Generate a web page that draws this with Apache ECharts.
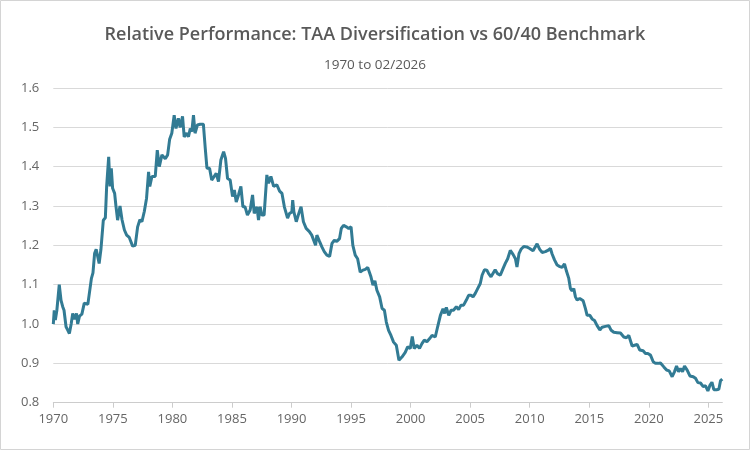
<!DOCTYPE html>
<html>
<head>
<meta charset="utf-8">
<script src="https://cdn.jsdelivr.net/npm/echarts@6/dist/echarts.min.js"></script>
<style>html,body{margin:0;padding:0;background:#fff}#c{width:750px;height:450px}</style>
</head>
<body>
<div id="c"></div>
<script>
const titleText = 'Relative Performance: TAA Diversification vs 60/40 Benchmark';
const subtitleText = '1970 to 02/2026';
const xTicks = [1970,1975,1980,1985,1990,1995,2000,2005,2010,2015,2020,2025];
const yTicks = [0.8,0.9,1.0,1.1,1.2,1.3,1.4,1.5,1.6];
const years = [
1970.00,1970.08,1970.17,1970.30,1970.50,1970.65,1970.79,1970.90,1971.07,1971.20,1971.35,1971.50,1971.63,1971.80,1971.95,
1972.05,1972.20,1972.40,1972.60,1972.75,1972.90,1973.05,1973.20,1973.33,1973.47,1973.60,1973.85,1974.00,1974.20,1974.37,
1974.48,1974.65,1974.76,1974.87,1974.98,1975.15,1975.26,1975.40,1975.60,1975.77,1975.97,1976.16,1976.38,1976.66,1976.88,
1977.08,1977.27,1977.44,1977.64,1977.83,1978.00,1978.10,1978.28,1978.56,1978.73,1978.90,1979.12,1979.40,1979.60,1979.77,
1979.95,1980.15,1980.30,1980.50,1980.65,1980.85,1980.99,1981.20,1981.35,1981.50,1981.63,1981.77,1981.90,1982.10,1982.33,
1982.60,1982.75,1982.90,1983.12,1983.30,1983.45,1983.68,1983.87,1984.07,1984.30,1984.46,1984.63,1984.85,1985.05,1985.20,
1985.36,1985.55,1985.75,1985.92,1986.10,1986.30,1986.53,1986.73,1986.87,1987.10,1987.23,1987.37,1987.50,1987.70,1987.93,
1988.07,1988.27,1988.50,1988.77,1989.00,1989.20,1989.40,1989.67,1989.83,1990.03,1990.10,1990.20,1990.40,1990.60,1990.80,
1990.90,1991.00,1991.23,1991.50,1991.70,1991.85,1992.02,1992.13,1992.35,1992.55,1992.75,1992.97,1993.20,1993.40,1993.60,
1993.80,1994.03,1994.18,1994.37,1994.60,1994.80,1995.00,1995.15,1995.35,1995.55,1995.77,1996.00,1996.20,1996.40,1996.56,
1996.67,1996.84,1997.00,1997.17,1997.40,1997.60,1997.80,1997.96,1998.15,1998.35,1998.57,1998.80,1999.02,1999.27,1999.55,
1999.75,1999.97,2000.14,2000.30,2000.53,2000.75,2000.95,2001.15,2001.37,2001.60,2001.80,2002.07,2002.27,2002.50,2002.72,
2002.86,2003.00,2003.20,2003.40,2003.60,2003.84,2004.03,2004.23,2004.45,2004.68,2004.87,2005.07,2005.24,2005.43,2005.63,
2005.85,2006.00,2006.20,2006.40,2006.55,2006.75,2006.90,2007.10,2007.30,2007.53,2007.76,2007.95,2008.15,2008.37,2008.60,
2008.80,2008.93,2009.10,2009.27,2009.50,2009.75,2010.00,2010.28,2010.62,2010.84,2011.04,2011.32,2011.52,2011.74,2011.88,
2012.08,2012.30,2012.53,2012.72,2012.92,2013.09,2013.28,2013.42,2013.56,2013.70,2013.84,2013.98,2014.20,2014.49,2014.68,
2014.82,2015.05,2015.24,2015.44,2015.66,2015.89,2016.08,2016.36,2016.64,2016.84,2017.06,2017.34,2017.62,2017.90,2018.12,
2018.32,2018.60,2018.80,2019.02,2019.24,2019.52,2019.72,2019.92,2020.14,2020.37,2020.56,2020.76,2020.98,2021.26,2021.49,
2021.71,2021.96,2022.16,2022.33,2022.50,2022.66,2022.83,2023.00,2023.22,2023.45,2023.73,2023.92,2024.12,2024.34,2024.57,
2024.76,2024.96,2025.13,2025.30,2025.46,2025.69,2025.88,2026.02,2026.17
];
const values = [
1.000,1.035,1.010,1.035,1.100,1.060,1.044,1.035,0.993,0.985,0.976,1.000,1.027,1.012,1.027,
1.000,1.020,1.025,1.053,1.050,1.050,1.045,1.116,1.130,1.180,1.190,1.154,1.190,1.264,1.270,
1.350,1.425,1.350,1.396,1.345,1.332,1.300,1.264,1.300,1.265,1.239,1.226,1.220,1.198,1.200,
1.247,1.265,1.260,1.286,1.320,1.387,1.350,1.375,1.375,1.442,1.400,1.430,1.420,1.430,1.470,
1.485,1.531,1.497,1.523,1.500,1.528,1.476,1.485,1.476,1.497,1.489,1.531,1.485,1.506,1.508,
1.508,1.450,1.396,1.396,1.366,1.370,1.383,1.362,1.417,1.438,1.421,1.370,1.366,1.324,1.341,
1.310,1.328,1.350,1.298,1.298,1.277,1.290,1.328,1.281,1.298,1.264,1.298,1.277,1.277,1.379,
1.358,1.375,1.350,1.354,1.338,1.332,1.298,1.269,1.281,1.285,1.315,1.285,1.260,1.280,1.298,
1.302,1.260,1.243,1.235,1.226,1.230,1.200,1.226,1.210,1.196,1.184,1.175,1.172,1.205,1.213,
1.210,1.217,1.243,1.251,1.247,1.243,1.247,1.200,1.175,1.166,1.132,1.137,1.139,1.144,1.146,
1.120,1.099,1.110,1.086,1.069,1.040,1.035,1.005,0.984,0.971,0.954,0.946,0.908,0.916,0.928,
0.942,0.938,0.968,0.938,0.946,0.938,0.950,0.959,0.955,0.963,0.971,0.967,0.993,1.022,1.039,
1.027,1.042,1.022,1.035,1.035,1.044,1.037,1.048,1.048,1.061,1.073,1.073,1.069,1.078,1.090,
1.103,1.124,1.138,1.137,1.128,1.120,1.124,1.138,1.128,1.124,1.141,1.154,1.166,1.187,1.177,
1.166,1.145,1.179,1.190,1.197,1.196,1.192,1.186,1.204,1.190,1.182,1.184,1.187,1.192,1.178,
1.163,1.150,1.146,1.144,1.153,1.134,1.116,1.090,1.084,1.090,1.069,1.061,1.065,1.059,1.039,
1.022,1.022,1.013,1.009,0.996,0.985,0.992,0.994,0.996,0.984,0.979,0.978,0.977,0.967,0.965,
0.971,0.944,0.946,0.948,0.934,0.932,0.925,0.925,0.921,0.904,0.900,0.900,0.901,0.891,0.883,
0.881,0.866,0.879,0.893,0.879,0.887,0.879,0.893,0.883,0.868,0.866,0.862,0.851,0.850,0.841,
0.843,0.830,0.844,0.852,0.833,0.833,0.834,0.856,0.860
];

const chart = echarts.init(document.getElementById('c'));
const series = years.map((y, i) => [y, values[i]]);
chart.setOption({
  animation: false,
  backgroundColor: '#ffffff',
  graphic: [{
    type: 'rect', silent: true, z: -1,
    shape: { x: 0.5, y: 0.5, width: 749, height: 449 },
    style: { fill: 'none', stroke: '#d4d4d4', lineWidth: 1 }
  }],
  title: [
    { text: titleText, left: 'center', top: 21,
      textStyle: { fontFamily: 'Open Sans', fontSize: 18, fontWeight: 600, color: '#595959' } },
    { text: subtitleText, left: 'center', top: 53,
      textStyle: { fontFamily: 'Open Sans', fontSize: 13.5, fontWeight: 'normal', color: '#595959' } }
  ],
  grid: { left: 53.3, right: 27.7, top: 88, bottom: 47.3, containLabel: false },
  xAxis: {
    type: 'value', min: 1970, max: 2026.17,
    axisLine: { show: true, lineStyle: { color: '#cccccc', width: 1 } },
    axisTick: { show: true, length: 5, lineStyle: { color: '#cccccc' }, customValues: xTicks },
    axisLabel: { customValues: xTicks, margin: 10, fontFamily: 'Open Sans', fontSize: 13, color: '#666666',
      formatter: v => String(Math.round(v)) },
    splitLine: { show: false }
  },
  yAxis: {
    type: 'value', min: 0.8, max: 1.6, interval: 0.1,
    axisLine: { show: false }, axisTick: { show: false },
    axisLabel: { margin: 14, fontFamily: 'Open Sans', fontSize: 13, color: '#666666',
      formatter: v => v.toFixed(1) },
    splitLine: { show: true, lineStyle: { color: '#d9d9d9', width: 1 } }
  },
  series: [{
    type: 'line', data: series, showSymbol: false, smooth: false,
    lineStyle: { color: '#327b94', width: 3 }, z: 3
  }]
});
</script>
</body>
</html>
